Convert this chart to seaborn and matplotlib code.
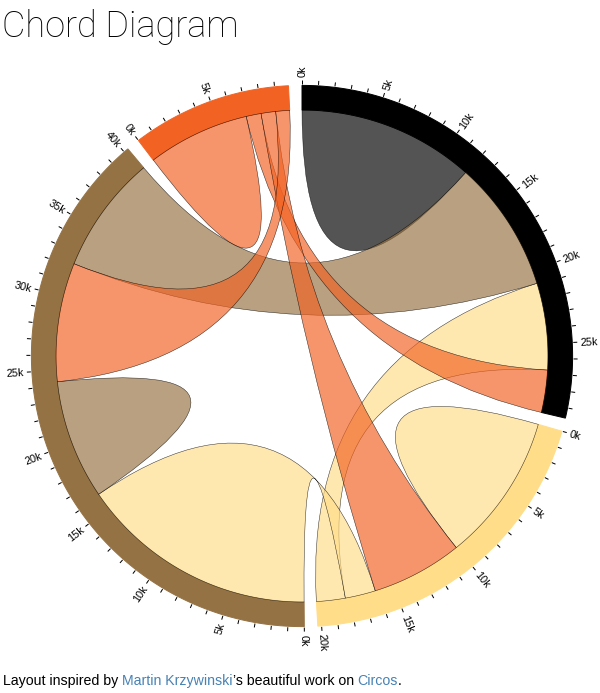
import numpy as np
import matplotlib
matplotlib.use("Agg")
import matplotlib.pyplot as plt
from matplotlib.path import Path
from matplotlib.patches import PathPatch
import seaborn as sns

# flows between the four groups (rows: source group, cols: target group)
matrix = [
    [11975, 5871, 8916, 2868],
    [1951, 10048, 2060, 6171],
    [8010, 16145, 8090, 8045],
    [1013, 990, 940, 6907],
]
group_colors = ["#000000", "#FFDD89", "#957244", "#F26223"]
tick_step = 1000
label_every = 5

title = "Chord Diagram"
footer_parts = [
    ("Layout inspired by ", "#000000"),
    ("Martin Krzywinski", "#4682b4"),
    ("\u2019s beautiful work on ", "#000000"),
    ("Circos", "#4682b4"),
    (".", "#000000"),
]

W, H = 600, 693
cx, cy = 302, 356
inner_r = 246
outer_r = inner_r * 1.1
padding = 0.05

sns.set_theme(style="white")
palette = sns.color_palette(group_colors)
plt.rcParams['font.family'] = ['Liberation Sans', 'DejaVu Sans']


def chord_layout(m, pad):
    m = np.asarray(m, dtype=float)
    n = len(m)
    k = (2 * np.pi - pad * n) / m.sum()
    groups, subgroups = [], {}
    x = 0.0
    for i in range(n):
        x0 = x
        for j in sorted(range(n), key=lambda j: -m[i][j]):
            a0 = x
            x += m[i][j] * k
            subgroups[(i, j)] = (a0, x, m[i][j])
        groups.append((x0, x, m[i].sum()))
        x += pad
    chords = []
    for i in range(n):
        for j in range(i, n):
            s, t = subgroups[(i, j)], subgroups[(j, i)]
            if s[2] or t[2]:
                if s[2] < t[2]:
                    chords.append((t, s, i))
                else:
                    chords.append((s, t, j))
    return k, groups, chords


def pt(a, r):
    return (cx + r * np.sin(a), cy - r * np.cos(a))


def arc_pts(a0, a1, r):
    n = max(2, int(abs(a1 - a0) * 120))
    return [pt(a, r) for a in np.linspace(a0, a1, n)]


k, groups, chords = chord_layout(matrix, padding)

fig = plt.figure(figsize=(W / 100, H / 100), dpi=100)
ax = fig.add_axes([0, 0, 1, 1])
ax.set_xlim(0, W)
ax.set_ylim(H, 0)
ax.axis("off")

# group arcs
for gi, (a0, a1, val) in enumerate(groups):
    verts = arc_pts(a0, a1, outer_r) + arc_pts(a1, a0, inner_r)
    verts.append(verts[0])
    codes = [Path.MOVETO] + [Path.LINETO] * (len(verts) - 2) + [Path.CLOSEPOLY]
    ax.add_patch(PathPatch(Path(verts, codes), facecolor=palette[gi],
                           edgecolor=palette[gi], lw=0.7))

    # ticks every 1k, labels every 5k
    for idx, v in enumerate(np.arange(0, val, tick_step)):
        a = v * k + a0
        p1, p2 = pt(a, outer_r + 1), pt(a, outer_r + 5)
        ax.plot([p1[0], p2[0]], [p1[1], p2[1]], color="black", lw=0.72,
                solid_capstyle="butt")
        if idx % label_every == 0:
            deg = np.degrees(a)
            tx, ty = pt(a, outer_r + 8)
            if a > np.pi:
                rot, ha = 270 - deg, "right"
            else:
                rot, ha = 90 - deg, "left"
            ax.text(tx, ty, f"{int(v / 1000)}k", rotation=rot, ha=ha,
                    va="center_baseline", rotation_mode="anchor", fontsize=7.8,
                    color="black")

# chords
center = (cx, cy)
for s, t, ci in chords:
    verts = arc_pts(s[0], s[1], inner_r)
    codes = [Path.MOVETO] + [Path.LINETO] * (len(verts) - 1)
    if s == t:
        verts += [center, pt(s[0], inner_r)]
        codes += [Path.CURVE3, Path.CURVE3]
    else:
        verts += [center, pt(t[0], inner_r)]
        codes += [Path.CURVE3, Path.CURVE3]
        tv = arc_pts(t[0], t[1], inner_r)[1:]
        verts += tv
        codes += [Path.LINETO] * len(tv)
        verts += [center, pt(s[0], inner_r)]
        codes += [Path.CURVE3, Path.CURVE3]
    verts.append(verts[0])
    codes.append(Path.CLOSEPOLY)
    ax.add_patch(PathPatch(Path(verts, codes),
                           facecolor=(*palette[ci], 0.67),
                           edgecolor=(0, 0, 0, 0.8), lw=0.36))

# title
ax.text(2, 37, title, fontsize=26, va="baseline", ha="left",
        family=["Roboto", "DejaVu Sans"], fontweight="light", color="black")

# footer with link-coloured words
fig.canvas.draw()
renderer = fig.canvas.get_renderer()


def text_width(s, **kw):
    t = ax.text(0, 0, s + "x", **kw)
    u = ax.text(0, 0, "x", **kw)
    w = t.get_window_extent(renderer).width - u.get_window_extent(renderer).width
    t.remove()
    u.remove()
    return w


fx = 3
for s, c in footer_parts:
    ax.text(fx, 685, s, color=c, fontsize=10.2, va="baseline", ha="left")
    fx += text_width(s, fontsize=10.2)

fig.savefig("out.png", dpi=100)
